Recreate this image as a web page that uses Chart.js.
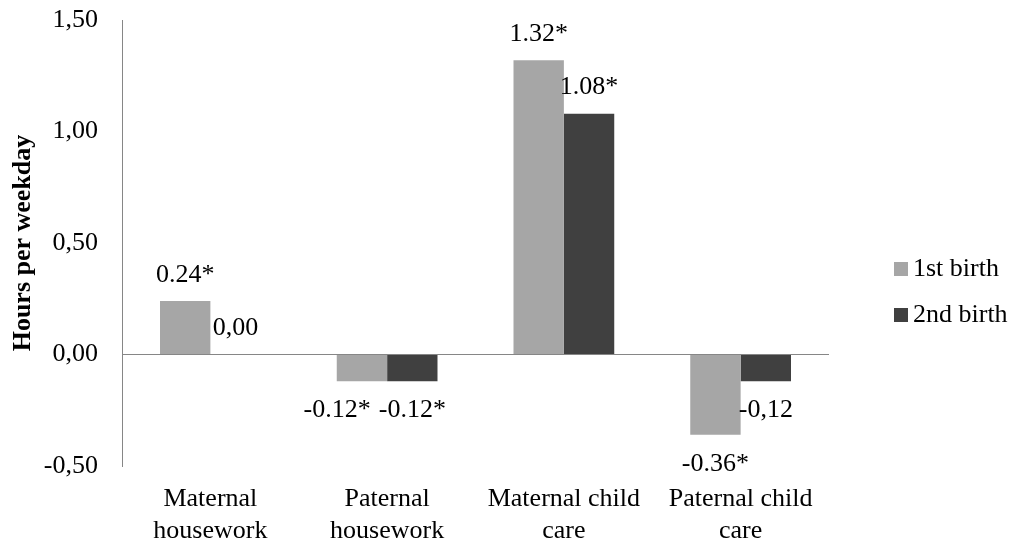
<!DOCTYPE html>
<html>
<head>
<meta charset="utf-8">
<script src="https://cdn.jsdelivr.net/npm/chart.js@4"></script>
<style>
  body { margin: 0; background: #fff; }
  #wrap { position: relative; width: 1012px; height: 547px; }
</style>
</head>
<body>
<div id="wrap"><canvas id="chart"></canvas></div>
<script>
// categories and series
const categories = [['Maternal', 'housework'], ['Paternal', 'housework'], ['Maternal child', 'care'], ['Paternal child', 'care']];
const firstBirth = [0.24, -0.12, 1.32, -0.36];
const secondBirth = [0.00, -0.12, 1.08, -0.12];
// value labels as printed on the bars
const firstBirthLabels = ['0.24*', '-0.12*', '1.32*', '-0.36*'];
const secondBirthLabels = ['0,00', '-0.12*', '1.08*', '-0,12'];
const yTicks = [-0.5, 0, 0.5, 1.0, 1.5];

const FONT = "'Liberation Serif', 'Times New Roman', serif";
const FONT_SIZE = 26;
const AXIS_GREY = '#868686';

// draws the value label outside the end of each bar,
// nudging the first one left when two labels in a group would collide
const barLabels = {
    id: 'barLabels',
    afterDatasetsDraw(chart) {
        const ctx = chart.ctx;
        ctx.save();
        ctx.font = FONT_SIZE + 'px ' + FONT;
        ctx.fillStyle = '#000';
        ctx.textAlign = 'center';
        ctx.textBaseline = 'middle';
        const sets = chart.data.datasets;
        const m0 = chart.getDatasetMeta(0), m1 = chart.getDatasetMeta(1);
        categories.forEach((c, j) => {
            const items = [0, 1].map(i => {
                const bar = (i === 0 ? m0 : m1).data[j];
                const v = sets[i].data[j];
                const text = sets[i].valueLabels[j];
                return { text, x: bar.x, y: v >= 0 ? bar.y - 26 : bar.y + 29, w: ctx.measureText(text).width };
            });
            const a = items[0], b = items[1];
            if (Math.abs(a.y - b.y) < FONT_SIZE) {
                const overlap = (a.x + a.w / 2) - (b.x - b.w / 2) + 8;
                if (overlap > 0) a.x -= overlap;
            }
            items.forEach(it => ctx.fillText(it.text, it.x, it.y));
        });
        ctx.restore();
    }
};

// legend drawn to the right of the plot, like the original
const sideLegend = {
    id: 'sideLegend',
    afterDraw(chart) {
        const ctx = chart.ctx;
        const area = chart.chartArea;
        ctx.save();
        ctx.font = FONT_SIZE + 'px ' + FONT;
        ctx.textBaseline = 'middle';
        ctx.textAlign = 'left';
        chart.data.datasets.forEach((ds, i) => {
            const x = area.right + 65;
            const y = 269 + i * 46;
            ctx.fillStyle = ds.backgroundColor;
            ctx.fillRect(x, y - 7, 14, 14);
            ctx.fillStyle = '#000';
            ctx.fillText(ds.label, x + 19, y);
        });
        ctx.restore();
    }
};

new Chart(document.getElementById('chart'), {
    type: 'bar',
    data: {
        labels: categories,
        datasets: [
            { label: '1st birth', data: firstBirth, valueLabels: firstBirthLabels, backgroundColor: '#a6a6a6' },
            { label: '2nd birth', data: secondBirth, valueLabels: secondBirthLabels, backgroundColor: '#404040' }
        ]
    },
    options: {
        responsive: true,
        maintainAspectRatio: false,
        animation: false,
        layout: { padding: { top: 20, right: 183, bottom: 0, left: 0 } },
        datasets: { bar: { categoryPercentage: 0.57, barPercentage: 1 } },
        plugins: {
            legend: { display: false },
            tooltip: { enabled: false }
        },
        scales: {
            x: {
                afterFit: (scale) => { scale.height = 81; },
                grid: { display: false, drawTicks: false },
                border: { display: false },
                ticks: {
                    color: '#000',
                    padding: 17,
                    maxRotation: 0,
                    autoSkip: false,
                    font: { family: FONT, size: FONT_SIZE, lineHeight: 1.23 }
                }
            },
            y: {
                min: -0.5,
                max: 1.5,
                afterFit: (scale) => {
                    scale.width = 122;
                    scale.paddingTop = 0;
                    scale.paddingBottom = 0;
                },
                afterBuildTicks: (scale) => { scale.ticks = yTicks.map(v => ({ value: v })); },
                grid: {
                    drawTicks: false,
                    color: (c) => c.tick && c.tick.value === 0 ? AXIS_GREY : 'rgba(0,0,0,0)',
                    lineWidth: 1
                },
                border: { display: true, color: AXIS_GREY, width: 1 },
                ticks: {
                    color: '#000',
                    padding: 24,
                    font: { family: FONT, size: FONT_SIZE },
                    callback: (v) => v.toFixed(2).replace('.', ',')
                },
                title: {
                    display: true,
                    text: 'Hours per weekday',
                    color: '#000',
                    padding: { top: 8, bottom: 4 },
                    font: { family: FONT, size: FONT_SIZE, weight: 'bold' }
                }
            }
        }
    },
    plugins: [barLabels, sideLegend]
});
</script>
</body>
</html>
